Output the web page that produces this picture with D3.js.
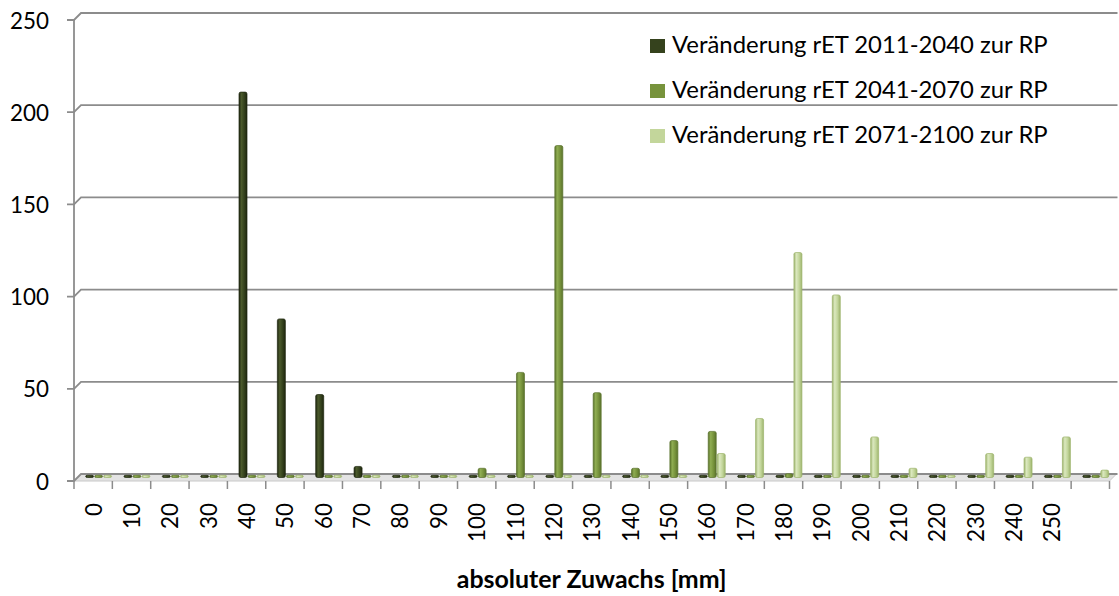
<!DOCTYPE html>
<html><head><meta charset="utf-8">
<script src="https://cdn.jsdelivr.net/npm/d3@7"></script>
<style>body{margin:0;background:#fff} svg{display:block}</style>
</head><body><svg id="c" width="1119" height="596"></svg>
<script>
// ---- data ----
const categories = ["0","10","20","30","40","50","60","70","80","90","100","110","120","130","140","150","160","170","180","190","200","210","220","230","240","250",""];
const seriesNames = ["Veränderung rET 2011-2040 zur RP","Veränderung rET 2041-2070 zur RP","Veränderung rET 2071-2100 zur RP"];
const rET2011_2040 = [0,0,0,0,209,86,45,6,0,0,0,0,0,0,0,0,0,0,0,0,0,0,0,0,0,0,0];
const rET2041_2070 = [0,0,0,0,0,0,0,0,0,0,5,57,180,46,5,20,25,0,2,0,0,0,0,0,0,0,0];
const rET2071_2100 = [0,0,0,0,0,0,0,0,0,0,0,0,0,0,0,0,13,32,122,99,22,5,0,13,11,22,4];
const yTicks = [0,50,100,150,200,250];
const axisTitle = "absoluter Zuwachs [mm]";
const seriesValues = [rET2011_2040, rET2041_2070, rET2071_2100];
const colors = ["#35421d","#77933c","#c3d69b"];
const strokes = ["#1e260f","#5a722c","#9db46d"];
const lights = ["#4b5a2c","#8fad52","#dbe8bf"];

const FONT = "Lato, 'Open Sans', sans-serif";
const svg = d3.select("#c");
const defs = svg.append("defs");
colors.forEach((c,i)=>{
  const g = defs.append("linearGradient").attr("id","g"+i).attr("x1","0").attr("x2","1").attr("y1","0").attr("y2","0");
  g.append("stop").attr("offset","0%").attr("stop-color",strokes[i]);
  g.append("stop").attr("offset","30%").attr("stop-color",lights[i]);
  g.append("stop").attr("offset","65%").attr("stop-color",c);
  g.append("stop").attr("offset","100%").attr("stop-color",strokes[i]);
});

// ---- scales ----
const DX = 7, DY = -7;           // depth of the 3D box
const x0 = d3.scaleBand().domain(categories).range([74, 1109.5]).paddingInner(0).paddingOuter(0);
const bw = x0.bandwidth();
const x1 = d3.scaleBand().domain(seriesNames).range([11.1, 38.1]).paddingInner(1/9).paddingOuter(1/18);
const y = d3.scaleLinear().domain([0,250]).range([481,20]);

// font fitting helper
function fitSize(text, target, weight){
  const t = svg.append("text").attr("font-family",FONT).attr("font-size",20).attr("font-weight",weight||"normal").text(text);
  const w = t.node().getComputedTextLength(); t.remove();
  return 20*target/w;
}
const tickFs = fitSize("250", 39);
const legFs = fitSize(seriesNames[0], 376);
const titleFs = fitSize(axisTitle, 270, "bold");

// ---- floor ----
const x0L = x0.range()[0], x0R = x0.range()[1];
svg.append("path")
  .attr("d", `M${x0L},${y(0)}L${x0R},${y(0)}L${x0R+DX},${y(0)+DY}L${x0L+DX},${y(0)+DY}Z`)
  .attr("fill","#e3e3e3").attr("stroke","#c8c8c8").attr("stroke-width",1);

// ---- gridlines (back wall) + y ticks ----
const gridG = svg.append("g");
yTicks.forEach(t=>{
  gridG.append("path")
    .attr("d", `M${x0L-7},${y(t)}L${x0L},${y(t)}L${x0L+DX},${y(t)+DY}L${x0R+DX+1},${y(t)+DY}`)
    .attr("fill","none").attr("stroke","#8c8c8c").attr("stroke-width",1.8);
});
svg.append("line").attr("x1",x0L).attr("x2",x0L).attr("y1",y(250)).attr("y2",y(0))
  .attr("stroke","#8c8c8c").attr("stroke-width",1.8);

// y tick labels
svg.append("g").selectAll("text").data(yTicks).join("text")
  .attr("x",49).attr("y",d=>y(d)).attr("text-anchor","end").attr("dominant-baseline","central")
  .attr("font-family",FONT).attr("font-size",tickFs).attr("fill","#000").text(d=>d);

// x ticks
const tickXs = categories.map(c=>x0(c)).concat([x0R]);
svg.append("g").selectAll("line").data(tickXs).join("line")
  .attr("x1",d=>d).attr("x2",d=>d).attr("y1",y(0)).attr("y2",y(0)+8)
  .attr("stroke","#8c8c8c").attr("stroke-width",1.5);

// x labels
svg.append("g").selectAll("text").data(categories).join("text")
  .attr("transform",d=>`translate(${x0(d)+bw/2},503) rotate(-90)`)
  .attr("text-anchor","end").attr("dominant-baseline","central")
  .attr("font-family",FONT).attr("font-size",tickFs).attr("fill","#000").text(d=>d);

// ---- bars ----
const barsG = svg.append("g");
seriesNames.forEach((s,i)=>{
  barsG.append("g").selectAll("rect").data(categories.map((c,j)=>({c, v:seriesValues[i][j]}))).join("rect")
    .attr("x",d=>x0(d.c)+x1(s))
    .attr("width",x1.bandwidth())
    .attr("y",d=>{const h=Math.max(y(0)-y(d.v),2.2); return y(0)+DY/2-h;})
    .attr("height",d=>Math.max(y(0)-y(d.v),2.2))
    .attr("rx",1.8)
    .attr("fill",`url(#g${i})`)
    .attr("stroke",strokes[i]).attr("stroke-width",0.7);
});

// ---- legend ----
const leg = svg.append("g");
seriesNames.forEach((s,i)=>{
  leg.append("rect").attr("x",650).attr("y",39+45*i).attr("width",15).attr("height",14).attr("fill",colors[i]);
  leg.append("text").attr("x",672).attr("y",53+45*i).attr("font-family",FONT).attr("font-size",legFs).attr("fill","#000").text(s);
});

// ---- axis title ----
svg.append("text").attr("x",(x0L+x0R)/2).attr("y",588).attr("text-anchor","middle")
  .attr("font-family",FONT).attr("font-weight","bold").attr("font-size",titleFs).attr("fill","#000").text(axisTitle);
</script></body></html>
